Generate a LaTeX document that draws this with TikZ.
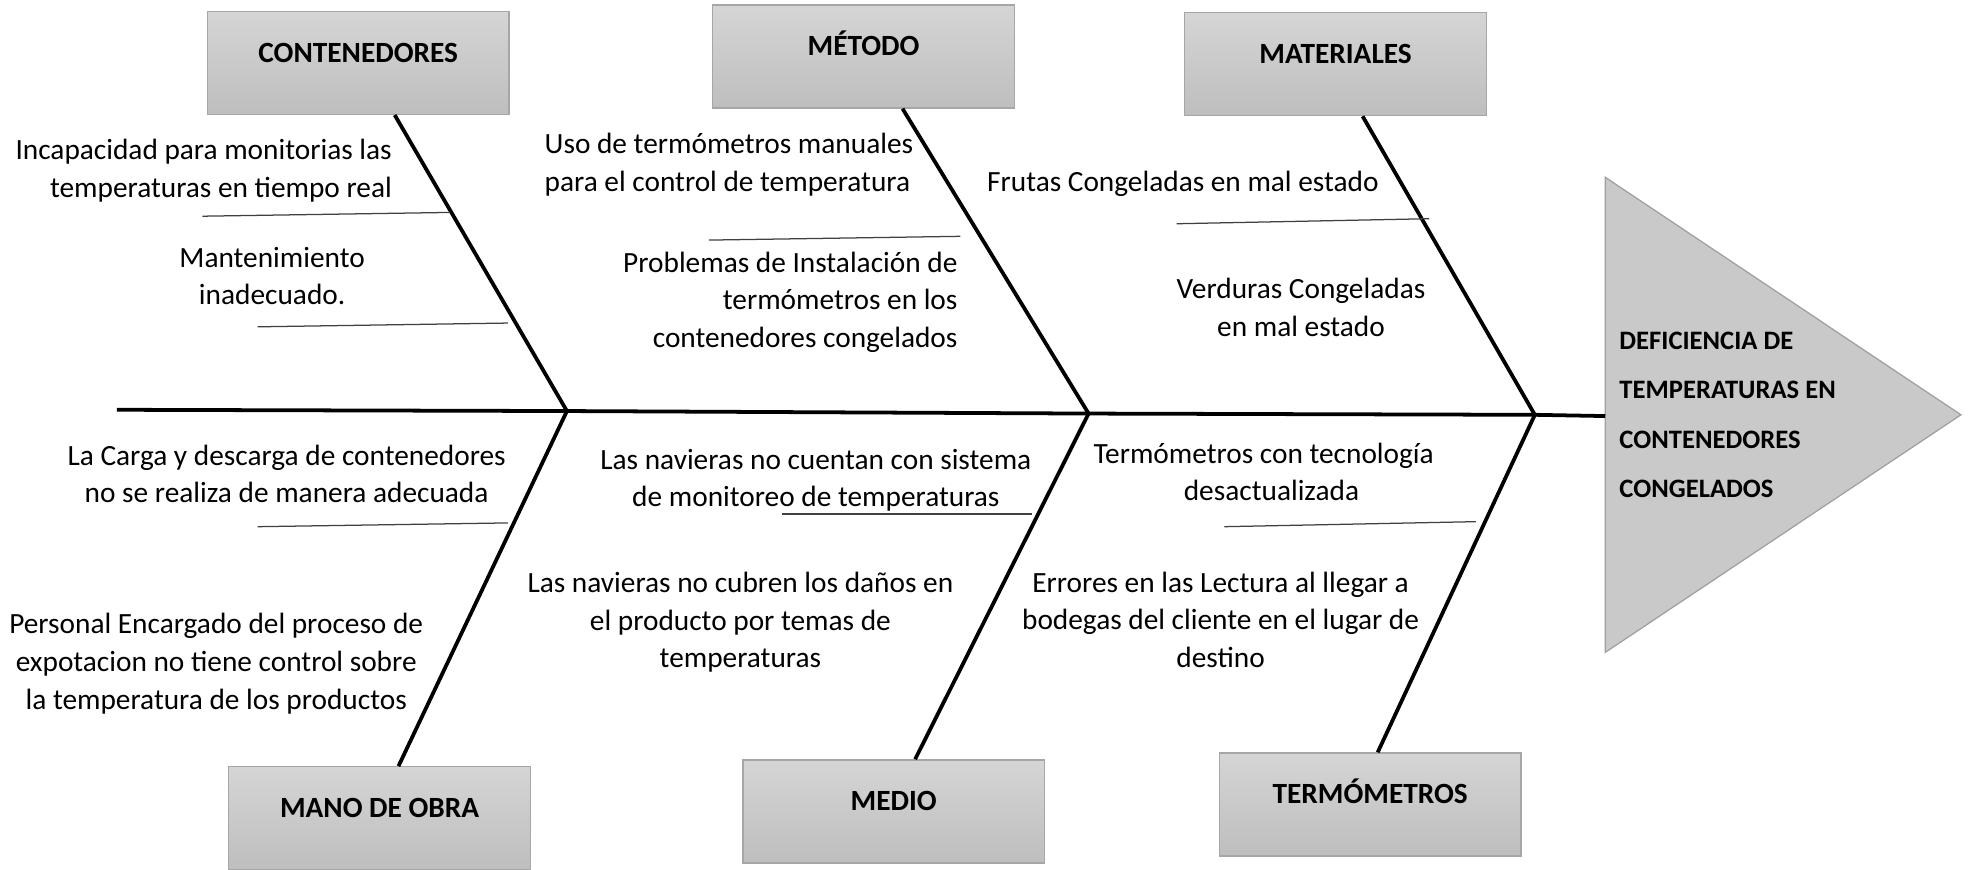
\documentclass[tikz,border=0pt]{standalone}
\usepackage{fontspec}
\setmainfont{Carlito}
\usetikzlibrary{calc}
\definecolor{boxtop}{HTML}{D5D5D5}
\definecolor{boxbot}{HTML}{BEBEBE}
\definecolor{boxborder}{HTML}{A6A6A6}
\definecolor{subgray}{HTML}{404040}
\definecolor{trifill}{HTML}{C9C9C9}
\definecolor{triborder}{HTML}{A0A0A0}
\begin{document}
\begin{tikzpicture}[x=0.6pt,y=-0.6pt,
  catbox/.style={draw=boxborder, line width=0.6pt, top color=boxtop, bottom color=boxbot,
    minimum width=144pt, minimum height=49.2pt, inner sep=0pt,
    font=\bfseries\fontsize{14}{17}\selectfont, text height=9pt, text depth=9.6pt},
  bone/.style={line width=1.8pt, draw=black},
  subline/.style={line width=0.6pt, draw=subgray},
  cause/.style={inner sep=0pt, font=\fontsize{14}{18}\selectfont},
  effect/.style={inner sep=0pt, align=left, font=\bfseries\fontsize{12.7}{23.6}\selectfont},
]
\useasboundingbox (0,0) rectangle (1568,692);

% category boxes
\node[catbox] (cont)  at (285,50)    {CONTENEDORES};
\node[catbox] (met)   at (687,45)    {MÉTODO};
\node[catbox] (mat)   at (1062.5,51) {MATERIALES};
\node[catbox] (mano)  at (302,651)   {MANO DE OBRA};
\node[catbox] (medio) at (711,645.5) {MEDIO};
\node[catbox] (term)  at (1090,640)  {TERMÓMETROS};

% head (triangle)
\coordinate (ht) at (1277,141);
\coordinate (hb) at (1277,519);
\coordinate (tip) at (1560,330);
\coordinate (hw) at (1277,331);
\fill[trifill, draw=triborder, line width=0.6pt] (ht) -- (tip) -- (hb) -- cycle;
\node[effect, anchor=west] (eff) at (1288,330) {DEFICIENCIA DE\\TEMPERATURAS EN\\CONTENEDORES\\CONGELADOS};

% spine
\coordinate (tail) at (93,326);
\coordinate (j1) at (451,327);
\coordinate (j2) at (866,329);
\coordinate (j3) at (1221,330);
\draw[bone] (tail) -- (j1) -- (j2) -- (j3) -- (hw);

% bones
\draw[bone] ($(cont.south)+(29,0)$) -- (j1);
\draw[bone] ($(met.south)+(31,0)$) -- (j2);
\draw[bone] ($(mat.south)+(21.5,0)$) -- (j3);
\draw[bone] (j1) -- ($(mano.north)+(15,0)$);
\draw[bone] (j2) -- ($(medio.north)+(17,0)$);
\draw[bone] (j3) -- ($(term.north)+(6,0)$);

% sub lines
\coordinate (a1) at (161,172); \coordinate (b1) at (358,169);
\coordinate (a2) at (205,260); \coordinate (b2) at (404,257);
\coordinate (a3) at (564,191); \coordinate (b3) at (764,188);
\coordinate (a4) at (936,178); \coordinate (b4) at (1137,174);
\coordinate (a5) at (205,419); \coordinate (b5) at (404,416);
\coordinate (a6) at (622,409); \coordinate (b6) at (821,409);
\coordinate (a7) at (974,419); \coordinate (b7) at (1174,415);
\foreach \i in {1,...,7} \draw[subline] (a\i) -- (b\i);

% causes
\node[cause, anchor=east, align=right] (t1) at (312,136) {Incapacidad para monitorias las\\temperaturas en tiempo real};
\node[cause, align=center] (t2) at (216.5,219.5) {Mantenimiento\\inadecuado.};
\node[cause, anchor=west, align=left] (t3) at (433,131) {Uso de termómetros manuales\\para el control de temperatura};
\node[cause, anchor=east, align=right] (t4) at (762,240.5) {Problemas de Instalación de\\termómetros en los\\contenedores congelados};
\node[cause, anchor=east] (t5) at (1097,146) {Frutas Congeladas en mal estado};
\node[cause, align=center] (t6) at (1035,244.5) {Verduras Congeladas\\en mal estado};
\node[cause, align=center] (t7) at (228,377) {La Carga y descarga de contenedores\\no se realiza de manera adecuada};
\node[cause, align=center] (t8) at (172,528) {Personal Encargado del proceso de\\expotacion no tiene control sobre\\la temperatura de los productos};
\node[cause, align=center] (t9) at (649,382) {Las navieras no cuentan con sistema\\de monitoreo de temperaturas};
\node[cause, align=center] (t10) at (589,495) {Las navieras no cubren los daños en\\el producto por temas de\\temperaturas};
\node[cause, align=center] (t11) at (1011.5,375.5) {Termómetros con tecnología\makebox[7.5pt]{}\\desactualizada};
\node[cause, align=center] (t12) at (971,493) {Errores en las Lectura al llegar a\\bodegas del cliente en el lugar de\\destino};
\end{tikzpicture}
\end{document}
